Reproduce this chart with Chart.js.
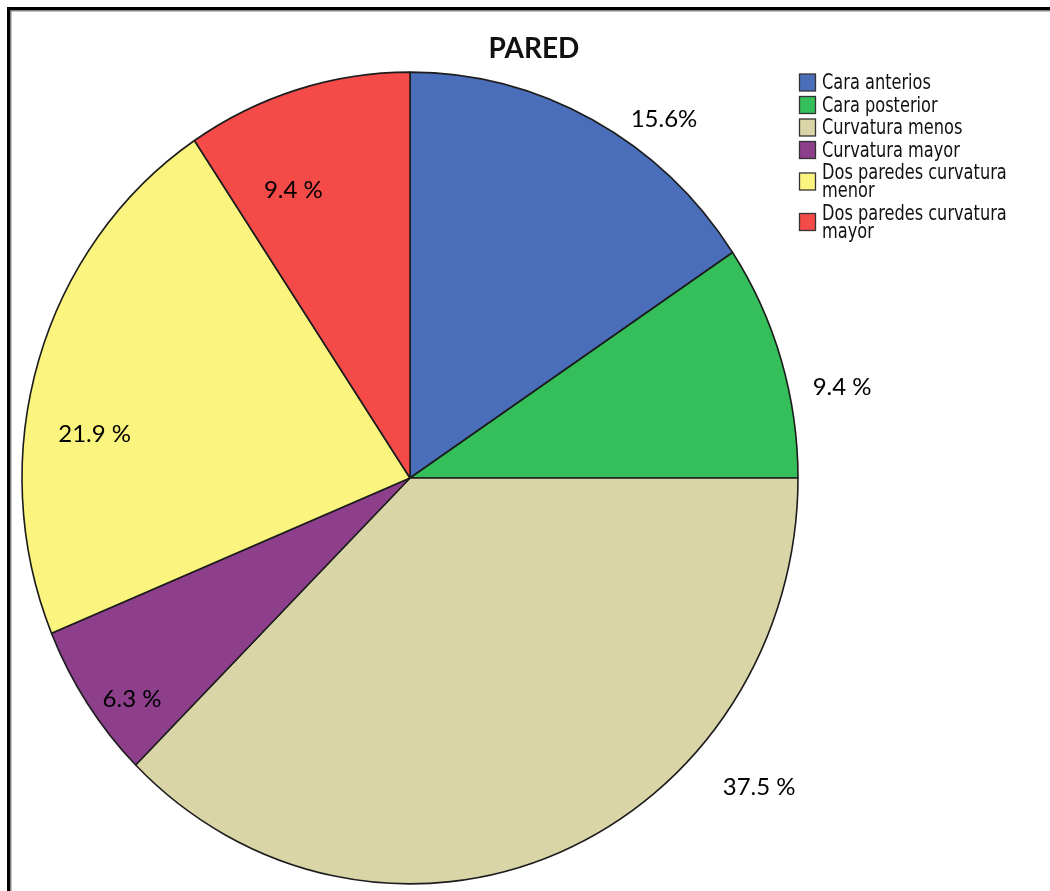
<!DOCTYPE html>
<html>
<head>
<meta charset="utf-8">
<script src="https://cdn.jsdelivr.net/npm/chart.js@4.4.0/dist/chart.umd.min.js"></script>
<style>
  html, body { margin: 0; padding: 0; background: #fff; }
  #wrap { position: relative; width: 1050px; height: 891px; }
  canvas { display: block; }
</style>
</head>
<body>
<div id="wrap"><canvas id="c" width="1050" height="891"></canvas></div>
<script>
// ---- data ----
const chartTitle = "PARED";
const categories = ["Cara anterios", "Cara posterior", "Curvatura menos", "Curvatura mayor", "Dos paredes curvatura menor", "Dos paredes curvatura mayor"];
const counts = [5, 3, 12, 2, 7, 3];
const percentLabels = ["15.6%", "9.4 %", "37.5 %", "6.3 %", "21.9 %", "9.4 %"];

// ---- style ----
const colors = ["#4A6EB9", "#34BF5B", "#D9D5A7", "#8D3F8C", "#FBF57F", "#F44B48"];
// label placement: [angle offset from slice middle (deg), radius factor]
const labelPlacement = [[8.4, 1.10], [5.5, 1.136], [-27.2, 1.18], [-3.5, 0.90], [-9.3, 0.82], [-6.1, 0.77]];
const yStretch = 1.046;
const legendTextStretch = 1.13;

const stretchPlugin = {
  id: 'stretch',
  beforeDatasetsDraw(chart) {
    const a = chart.getDatasetMeta(0).data[0];
    const ctx = chart.ctx;
    ctx.save();
    ctx.translate(a.x, a.y);
    ctx.scale(1, yStretch);
    ctx.translate(-a.x, -a.y);
  },
  afterDatasetsDraw(chart) {
    chart.ctx.restore();
  }
};

function wrapText(ctx, text, maxW) {
  const words = text.split(' ');
  const lines = [];
  let cur = '';
  for (const w of words) {
    const t = cur ? cur + ' ' + w : w;
    if (ctx.measureText(t).width > maxW && cur) { lines.push(cur); cur = w; }
    else cur = t;
  }
  if (cur) lines.push(cur);
  return lines;
}

const decorPlugin = {
  id: 'decor',
  afterDraw(chart) {
    const ctx = chart.ctx;
    ctx.save();
    // frame
    ctx.fillStyle = '#000';
    ctx.fillRect(7, 7, 1043, 3.5);
    ctx.fillRect(7, 7, 3.5, 884);
    ctx.fillStyle = '#888';
    ctx.fillRect(10.5, 10.5, 1039.5, 1);
    ctx.fillRect(10.5, 10.5, 1, 880.5);

    // title
    ctx.fillStyle = '#111';
    ctx.font = "bold 28px Lato, 'Open Sans', sans-serif";
    ctx.textAlign = 'center';
    ctx.textBaseline = 'middle';
    ctx.fillText(chartTitle, 534, 49);

    // percentage labels
    const meta = chart.getDatasetMeta(0);
    ctx.font = "24px Lato, 'Open Sans', sans-serif";
    ctx.fillStyle = '#000';
    meta.data.forEach((arc, i) => {
      const mid = (arc.startAngle + arc.endAngle) / 2 + labelPlacement[i][0] * Math.PI / 180;
      const r = arc.outerRadius * labelPlacement[i][1];
      const x = arc.x + r * Math.cos(mid);
      const y = arc.y + r * Math.sin(mid) * yStretch;
      ctx.fillText(percentLabels[i], x, y);
    });

    // legend
    ctx.font = "18px 'DejaVu Sans Condensed', 'DejaVu Sans', sans-serif";
    ctx.textAlign = 'left';
    let y = 83;
    categories.forEach((lab, i) => {
      const lines = wrapText(ctx, lab, 198);
      const blockMid = y + (lines.length - 1) * 18 / 2;
      ctx.fillStyle = colors[i];
      ctx.fillRect(799.5, blockMid - 9, 16, 17);
      ctx.strokeStyle = '#333';
      ctx.lineWidth = 1.3;
      ctx.strokeRect(799.5, blockMid - 9, 16, 17);
      ctx.fillStyle = '#111';
      lines.forEach((ln, k) => {
        const ty = y + k * 18 + 1;
        ctx.save();
        ctx.translate(822, ty);
        ctx.scale(1, legendTextStretch);
        ctx.fillText(ln, 0, 0);
        ctx.restore();
      });
      y += (lines.length - 1) * 18 + 22.5;
    });
    ctx.restore();
  }
};

new Chart(document.getElementById('c'), {
  type: 'pie',
  data: {
    labels: categories,
    datasets: [{
      data: counts,
      backgroundColor: colors,
      borderColor: '#1c1c1c',
      borderWidth: 1.6
    }]
  },
  options: {
    responsive: false,
    animation: false,
    radius: 388,
    layout: { padding: { left: 22, right: 252, top: 90, bottom: 25 } },
    plugins: {
      legend: { display: false },
      title: { display: false },
      tooltip: { enabled: false }
    }
  },
  plugins: [stretchPlugin, decorPlugin]
});
</script>
</body>
</html>
